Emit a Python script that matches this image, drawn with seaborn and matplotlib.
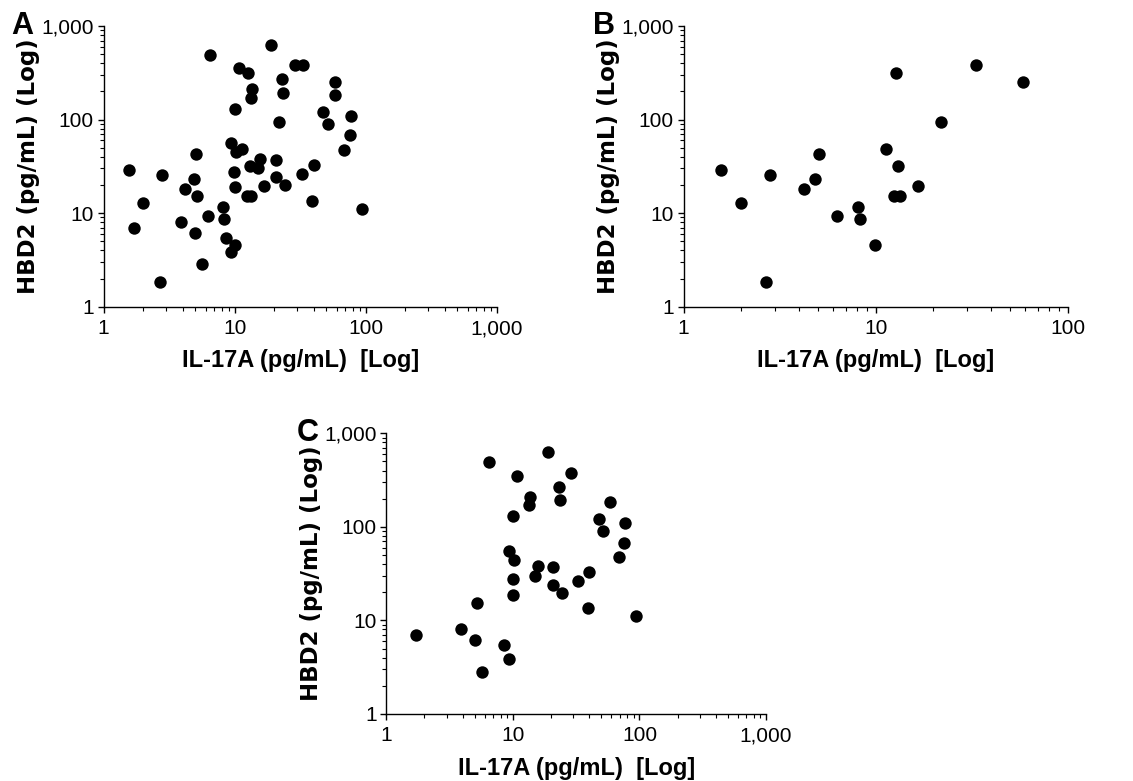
"""
HBD2 vs IL-17A scatter plots (log-log), three panels A / B / C
"""

import matplotlib
matplotlib.use("Agg")

import matplotlib.pyplot as plt
import matplotlib.ticker as mticker
import seaborn as sns
import numpy as np
import pandas as pd

sns.set_style("ticks")
plt.rcParams["font.family"] = ["Liberation Sans", "DejaVu Sans"]
plt.rcParams["text.color"] = "black"
plt.rcParams["axes.labelcolor"] = "black"
plt.rcParams["xtick.color"] = "black"
plt.rcParams["ytick.color"] = "black"

# group B (panel B)
il17a_b = [1.57, 1.98, 2.67, 2.81, 4.21, 4.86, 5.08, 6.31, 8.12, 8.28,
           9.98, 11.3, 12.7, 12.5, 13.4, 13.0, 16.7, 21.9, 33.5, 58.3]
hbd2_b = [28.6, 12.7, 1.83, 25.3, 17.9, 23.0, 43.2, 9.3, 11.5, 8.6,
          4.6, 48.8, 317, 15.1, 15.2, 31.9, 19.7, 93.3, 379, 254]

# group C (panel C)
il17a_c = [1.71, 3.92, 5.01, 5.19, 5.66, 6.48, 8.54, 9.32, 9.32, 10.0,
           9.95, 10.0, 10.2, 10.7, 13.6, 13.3, 15.0, 15.7, 19.05, 20.6,
           20.7, 23.1, 23.5, 24.4, 28.7, 32.9, 39.2, 40.1, 47.5, 51.3,
           58.3, 68.3, 75.9, 76.8, 94.3]
hbd2_c = [7.0, 8.1, 6.2, 15.2, 2.84, 489, 5.46, 3.84, 55.7, 130.7,
          27.5, 18.9, 44.6, 352, 210, 170, 30.1, 37.9, 626, 37.2,
          24.1, 269, 194, 19.8, 379, 26.4, 13.5, 32.7, 120, 90.3,
          183, 47.2, 67.8, 109, 11.2]

# panel A = all subjects
il17a_a = il17a_b + il17a_c
hbd2_a = hbd2_b + hbd2_c

X_LABEL = "IL-17A (pg/mL)  [Log]"
Y_LABEL = "HBD2 (pg/mL) (Log)"


def _comma(v, pos):
    return f"{v:,.0f}"


def _scatter_panel(ax, x, y, xmax, letter):
    df = pd.DataFrame({"x": x, "y": y})
    sns.scatterplot(data=df, x="x", y="y", ax=ax, color="black",
                    s=80, linewidth=0, clip_on=False)
    ax.set_xscale("log")
    ax.set_yscale("log")
    ax.set_xlim(1, xmax)
    ax.set_ylim(1, 1000)
    ax.xaxis.set_major_formatter(mticker.FuncFormatter(_comma))
    ax.yaxis.set_major_formatter(mticker.FuncFormatter(_comma))
    ax.xaxis.set_minor_formatter(mticker.NullFormatter())
    ax.yaxis.set_minor_formatter(mticker.NullFormatter())
    ax.tick_params(which="major", direction="out", length=4, width=1,
                   labelsize=15, color="black", labelcolor="black", pad=3)
    ax.tick_params(axis="x", which="major", pad=5)
    ax.tick_params(which="minor", direction="out", length=3, width=0.8,
                   color="black")
    for side in ("left", "bottom"):
        ax.spines[side].set_color("black")
        ax.spines[side].set_linewidth(1)
    sns.despine(ax=ax)
    ax.set_xlabel(X_LABEL, fontsize=17, fontweight="bold", labelpad=8,
                  color="black")
    # y label in the source is drawn wider than the x label
    ax.set_ylabel(Y_LABEL, fontsize=16.5, fontweight="bold", labelpad=1,
                  family=["DejaVu Sans"], color="black")
    ax.text(-0.235, 1.0, letter, transform=ax.transAxes, fontsize=22,
            fontweight="bold", ha="left", va="center", color="black")


fig = plt.figure(figsize=(11.33, 7.81), dpi=100)
ax_a = fig.add_axes([0.0915, 0.6073, 0.3469, 0.3594])
ax_b = fig.add_axes([0.6034, 0.6073, 0.3389, 0.3594])
ax_c = fig.add_axes([0.3410, 0.0858, 0.3351, 0.3594])

_scatter_panel(ax_a, il17a_a, hbd2_a, 1000, "A")
_scatter_panel(ax_b, il17a_b, hbd2_b, 100, "B")
_scatter_panel(ax_c, il17a_c, hbd2_c, 1000, "C")

fig.savefig("out.png", dpi=100, facecolor="white")
